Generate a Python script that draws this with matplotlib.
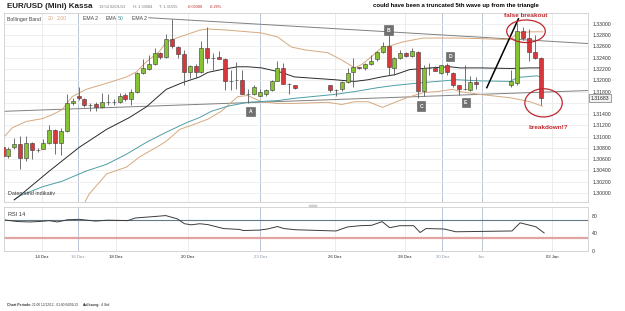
import matplotlib
matplotlib.use("Agg")
import matplotlib.pyplot as plt
from matplotlib.patches import Rectangle, Ellipse
from matplotlib.transforms import blended_transform_factory

# --- Data ---------------------------------------------------------------------
# Position of each 4h candle on the time axis (25 Dec and 01 Jan have no candles)
SLOTS = list(range(0, 51)) + list(range(56, 82)) + list(range(87, 93))

OPEN = [1.3081, 1.3066, 1.3081, 1.3087, 1.3063, 1.3088, 1.3077, 1.3079, 1.3089, 1.3111,
        1.3089, 1.3110, 1.3160, 1.3173, 1.3166, 1.3157, 1.3158, 1.3153, 1.3162, 1.3162,
        1.3162, 1.3174, 1.3167, 1.3179, 1.3213, 1.3220, 1.3229, 1.3248, 1.3241, 1.3274,
        1.3259, 1.3246, 1.3215, 1.3226, 1.3215, 1.3258, 1.3239, 1.3241, 1.3238, 1.3198,
        1.3200, 1.3201, 1.3175, 1.3176, 1.3173, 1.3175, 1.3182, 1.3199, 1.3221, 1.3194,
        1.3192, 1.3191, 1.3182, 1.3185, 1.3197, 1.3215, 1.3223, 1.3221, 1.3229, 1.3237,
        1.3250, 1.3260, 1.3222, 1.3239, 1.3248, 1.3244, 1.3251, 1.3181, 1.3222, 1.3222,
        1.3213, 1.3227, 1.3213, 1.3191, 1.3184, 1.3183, 1.3197, 1.3191, 1.3195, 1.3288,
        1.3275, 1.3250, 1.3239]
HIGH = [1.3082, 1.3082, 1.3098, 1.3101, 1.3101, 1.3091, 1.3080, 1.3096, 1.3120, 1.3113,
        1.3116, 1.3175, 1.3169, 1.3189, 1.3169, 1.3160, 1.3162, 1.3178, 1.3175, 1.3166,
        1.3177, 1.3177, 1.3184, 1.3215, 1.3238, 1.3245, 1.3258, 1.3251, 1.3282, 1.3309,
        1.3260, 1.3254, 1.3228, 1.3229, 1.3269, 1.3295, 1.3248, 1.3252, 1.3239, 1.3219,
        1.3232, 1.3219, 1.3184, 1.3191, 1.3184, 1.3184, 1.3201, 1.3235, 1.3231, 1.3195,
        1.3192, 1.3191, 1.3184, 1.3198, 1.3222, 1.3239, 1.3224, 1.3231, 1.3245, 1.3252,
        1.3268, 1.3281, 1.3241, 1.3254, 1.3250, 1.3257, 1.3252, 1.3228, 1.3231, 1.3225,
        1.3228, 1.3231, 1.3215, 1.3192, 1.3228, 1.3207, 1.3205, 1.3219, 1.3301, 1.3294,
        1.3291, 1.3281, 1.3242]
LOW = [1.3063, 1.3062, 1.3078, 1.3042, 1.3057, 1.3060, 1.3073, 1.3078, 1.3087, 1.3069,
       1.3068, 1.3109, 1.3157, 1.3165, 1.3152, 1.3145, 1.3145, 1.3151, 1.3157, 1.3157,
       1.3160, 1.3164, 1.3157, 1.3178, 1.3211, 1.3219, 1.3228, 1.3238, 1.3239, 1.3257,
       1.3239, 1.3192, 1.3204, 1.3204, 1.3213, 1.3231, 1.3219, 1.3237, 1.3182, 1.3182,
       1.3184, 1.3175, 1.3160, 1.3174, 1.3172, 1.3172, 1.3181, 1.3198, 1.3194, 1.3175,
       1.3185, 1.3179, 1.3172, 1.3181, 1.3195, 1.3188, 1.3220, 1.3219, 1.3228, 1.3235,
       1.3248, 1.3210, 1.3210, 1.3237, 1.3242, 1.3242, 1.3169, 1.3172, 1.3210, 1.3216,
       1.3211, 1.3210, 1.3189, 1.3174, 1.3182, 1.3181, 1.3185, 1.3189, 1.3192, 1.3272,
       1.3234, 1.3238, 1.3157]
CLOSE = [1.3066, 1.3079, 1.3087, 1.3063, 1.3088, 1.3076, 1.3077, 1.3088, 1.3111, 1.3088,
         1.3110, 1.3159, 1.3164, 1.3168, 1.3156, 1.3157, 1.3153, 1.3162, 1.3162, 1.3162,
         1.3173, 1.3167, 1.3179, 1.3213, 1.3221, 1.3229, 1.3248, 1.3241, 1.3274, 1.3260,
         1.3246, 1.3215, 1.3226, 1.3215, 1.3258, 1.3239, 1.3239, 1.3237, 1.3199, 1.3198,
         1.3200, 1.3175, 1.3175, 1.3188, 1.3179, 1.3182, 1.3199, 1.3221, 1.3194, 1.3194,
         1.3186, 1.3182, 1.3182, 1.3197, 1.3213, 1.3223, 1.3221, 1.3229, 1.3235, 1.3250,
         1.3260, 1.3223, 1.3239, 1.3248, 1.3244, 1.3252, 1.3181, 1.3222, 1.3222, 1.3217,
         1.3227, 1.3215, 1.3192, 1.3185, 1.3184, 1.3197, 1.3194, 1.3198, 1.3288, 1.3275,
         1.3251, 1.3239, 1.3168]

# Indicator lines (x = slot, y = price)
BB_UP_X = [-0.6, 1.7, 4.1, 6.8, 8.5, 10.2, 11.9, 14.3, 16.6, 18.8, 21.2, 22.9, 24.6, 26.8,
           28.0, 30.3, 33.7, 35.1, 38.5, 44.3, 47.0, 49.4, 51.7, 55.6, 58.0, 60.2, 61.4,
           63.1, 64.8, 66.2, 68.4, 71.9, 77.7, 81.6, 86.8, 88.1, 90.2, 92.4]
BB_UP = [1.3090, 1.3116, 1.3127, 1.3132, 1.3139, 1.3148, 1.3171, 1.3184, 1.3191, 1.3198,
         1.3206, 1.3215, 1.3233, 1.3251, 1.3268, 1.3277, 1.3289, 1.3291, 1.3289, 1.3284,
         1.3277, 1.3259, 1.3254, 1.3249, 1.3236, 1.3222, 1.3228, 1.3242, 1.3258, 1.3261,
         1.3268, 1.3275, 1.3275, 1.3274, 1.3272, 1.3284, 1.3286, 1.3286]
BB_LOW_X = [13.5, 14.8, 17.8, 21.2, 23.4, 26.3, 28.0, 30.3, 32.8, 35.1, 37.4, 40.2, 41.9,
            44.3, 47.0, 49.9, 55.6, 58.0, 60.2, 62.5, 65.0, 67.1, 69.1, 71.9, 74.3, 77.0,
            78.2, 81.6, 86.8, 90.2, 92.3]
BB_LOW = [1.2972, 1.2998, 1.3034, 1.3046, 1.3064, 1.3081, 1.3092, 1.3113, 1.3122, 1.3131,
          1.3145, 1.3171, 1.3173, 1.3162, 1.3159, 1.3159, 1.3161, 1.3157, 1.3162, 1.3162,
          1.3152, 1.3161, 1.3169, 1.3178, 1.3180, 1.3184, 1.3180, 1.3175, 1.3169, 1.3162,
          1.3154]
EMA_FAST_X = [2.0, 2.9, 8.0, 13.1, 17.8, 21.7, 24.6, 28.0, 30.8, 33.7, 35.1, 37.4, 40.2,
              41.9, 44.3, 47.7, 49.9, 56.8, 60.2, 62.5, 64.8, 67.1, 69.6, 73.1, 76.5, 78.2,
              81.6, 86.8, 90.2, 91.9]
EMA_FAST = [1.2988, 1.2995, 1.3039, 1.3081, 1.3113, 1.3134, 1.3153, 1.3184, 1.3196, 1.3206,
            1.3214, 1.3219, 1.3224, 1.3224, 1.3222, 1.3214, 1.3206, 1.3201, 1.3198, 1.3201,
            1.3206, 1.3210, 1.3219, 1.3222, 1.3224, 1.3222, 1.3222, 1.3221, 1.3222, 1.3222]
EMA_SLOW_X = [2.0, 2.9, 6.8, 10.2, 14.3, 17.8, 21.2, 24.6, 28.0, 31.5, 33.7, 35.7, 38.5,
              41.9, 47.0, 49.9, 56.8, 60.2, 64.2, 67.1, 71.9, 77.7, 81.6, 86.8, 88.0, 91.4,
              91.9]
EMA_SLOW = [1.2988, 1.2995, 1.3011, 1.3021, 1.3039, 1.3051, 1.3069, 1.3090, 1.3108, 1.3125,
            1.3134, 1.3145, 1.3154, 1.3161, 1.3164, 1.3168, 1.3175, 1.3180, 1.3187, 1.3191,
            1.3196, 1.3201, 1.3199, 1.3198, 1.3205, 1.3208, 1.3206]

TREND_UP_X = [25.0, 100.5]
TREND_UP = [1.3311, 1.3265]
TREND_LOW_X = [0.3, 100.5]
TREND_LOW = [1.3145, 1.3182]
WAVE_X = [82.8, 88.2]
WAVE = [1.3187, 1.3309]

RSI_X = [0.1, 2.5, 4.6, 6.3, 8.0, 9.4, 11.1, 13.1, 15.9, 17.9, 20.0, 21.4, 22.7, 26.2,
         27.9, 29.9, 31.1, 32.3, 33.7, 35.1, 37.8, 40.5, 41.2, 43.9, 45.3, 47.0, 48.1,
         50.1, 57.0, 59.0, 61.1, 63.1, 64.9, 66.2, 67.9, 70.3, 71.4, 72.4, 75.5, 77.5,
         87.1, 88.5, 91.2, 92.6]
RSI = [71, 67, 66, 67, 69, 66, 71, 72, 68, 70, 69.5, 69, 75, 78.6, 80.5, 73, 62, 59.5,
       62, 60, 51, 49, 46.5, 47.5, 50, 55.6, 51, 48.3, 45.5, 54.7, 57.5, 58.4, 66.7, 53,
       57.5, 57.5, 42, 51, 50, 43.7, 45.5, 64, 55, 41]

PRICE_TICKS = [1.300, 1.302, 1.304, 1.306, 1.308, 1.310, 1.312, 1.314, 1.316, 1.318,
               1.320, 1.322, 1.324, 1.326, 1.328, 1.330]
RSI_TICKS = [0, 40, 80]
DATE_POS = [6.75, 12.85, 19.4, 31.7, 44.1, 56.8, 68.8, 75.2, 81.9, 94.0]
DATE_LABELS = ["14 Dez", "16 Dez", "18 Dez", "20 Dez", "23 Dez", "26 Dez", "28 Dez",
               "30 Dez", "Jan", "03 Jan"]
WEEK_START = ["16 Dez", "23 Dez", "30 Dez", "Jan"]

MARKS = ["A", "B", "C", "D", "E"]
MARK_X = [42.4, 66.0, 71.6, 76.5, 79.2]
MARK_Y = [1.3145, 1.3289, 1.3154, 1.3242, 1.3161]
LAST_PRICE = 1.31683

# --- Style --------------------------------------------------------------------
W, H = 625, 311
GREEN = "#86c232"
RED = "#d8383c"
EDGE = "#3c3c3c"
TAN = "#d6a97e"
TEAL = "#4f9ea6"
GRID = "#ececec"
WEEK = "#b9c6d6"
ANNOT = "#c0272d"
FONT = "Liberation Sans"

plt.rcParams["font.family"] = FONT


def fig_box(left, top, right, bottom):
    return [left / W, 1 - bottom / H, (right - left) / W, (bottom - top) / H]


def fig_pt(x, y):
    return x / W, 1 - y / H


fig = plt.figure(figsize=(W / 100, H / 100), dpi=100)
fig.patch.set_facecolor("white")

ax = fig.add_axes(fig_box(4, 13, 588, 202))
ax_rsi = fig.add_axes(fig_box(4, 207, 588, 251), sharex=ax)

for a in (ax, ax_rsi):
    for spine in a.spines.values():
        spine.set_color("#cfcfcf")
        spine.set_linewidth(0.6)
    for pos, lab in zip(DATE_POS, DATE_LABELS):
        a.axvline(pos, color=WEEK if lab in WEEK_START else GRID, lw=0.7, zorder=0)

ax.set_xlim(0.25, 100.1)
ax.set_ylim(1.29841, 1.33194)
for p in PRICE_TICKS:
    ax.axhline(p, color=GRID, lw=0.6, zorder=0)

# --- Candles ------------------------------------------------------------------
for s, o, h, l, c in zip(SLOTS, OPEN, HIGH, LOW, CLOSE):
    ax.vlines(s, l, h, color="#5a5a5a", lw=0.6, zorder=3)
    ax.add_patch(Rectangle((s - 0.34, min(o, c)), 0.68, abs(c - o),
                           fc=GREEN if c >= o else RED, ec=EDGE, lw=0.4, zorder=4))

ax.plot(TREND_UP_X, TREND_UP, color="#808080", lw=0.7, zorder=2)
ax.plot(TREND_LOW_X, TREND_LOW, color="#808080", lw=0.7, zorder=2)
ax.plot(BB_UP_X, BB_UP, color=TAN, lw=0.7, zorder=2)
ax.plot(BB_LOW_X, BB_LOW, color=TAN, lw=0.7, zorder=2)
ax.plot(EMA_SLOW_X, EMA_SLOW, color=TEAL, lw=0.7, zorder=2)
ax.plot(EMA_FAST_X, EMA_FAST, color="#2a2a2a", lw=0.7, zorder=2)
ax.plot(WAVE_X, WAVE, color="black", lw=1.1, zorder=5)

# annotation circles
ax.add_patch(Ellipse((89.5, 1.3287), 6.6, 0.0040, fill=False, ec=ANNOT, lw=0.9, zorder=6))
ax.add_patch(Ellipse((92.5, 1.3160), 6.4, 0.0050, fill=False, ec=ANNOT, lw=0.9, zorder=6))
ax.text(89.5, 1.3315, "false breakout", color=ANNOT, fontsize=4.6, fontweight="bold",
        ha="center", va="center", zorder=7)
ax.text(93.3, 1.3117, "breakdown!?", color=ANNOT, fontsize=4.6, fontweight="bold",
        ha="center", va="center", zorder=7)

for m, mx, my in zip(MARKS, MARK_X, MARK_Y):
    ax.text(mx, my, m, color="white", fontsize=3.6, fontweight="bold", ha="center",
            va="center", zorder=7,
            bbox=dict(boxstyle="square,pad=0.45", fc="#707070", ec="#5a5a5a", lw=0.4))

ax.yaxis.tick_right()
ax.set_yticks(PRICE_TICKS)
ax.set_yticklabels(["" if abs(p - 1.316) < 1e-9 else f"{p:.5f}" for p in PRICE_TICKS])
ax.tick_params(axis="y", length=0, pad=3, labelsize=3.7, labelcolor="#333333")
ax.tick_params(axis="x", length=0, labelbottom=False)

trans = blended_transform_factory(ax.transAxes, ax.transData)
ax.text(1.004, LAST_PRICE, f"{LAST_PRICE:.5f}", transform=trans, fontsize=3.7,
        color="#222222", va="center", ha="left", zorder=8, clip_on=False,
        bbox=dict(boxstyle="square,pad=0.35", fc="#f2f2f2", ec="#777777", lw=0.5))

ax.text(0.006, 0.03, "Daten sind indikativ", transform=ax.transAxes, fontsize=3.9,
        color="#333333", va="bottom", ha="left")

# legend row
legend_items = [(7, "Bollinger Band", "#444444"), (48, "20", TAN), (57, "2.00", TAN),
                (83, "EMA 2", "#444444"), (106, "EMA", "#444444"), (118, "50", TEAL),
                (132, "EMA 2", "#444444")]
for lx, txt, col in legend_items:
    fig.text(*fig_pt(lx, 19), txt, color=col, fontsize=3.7, va="center", ha="left")

# --- RSI ----------------------------------------------------------------------
ax_rsi.set_ylim(0, 100)
ax_rsi.axhline(70, color="#62798a", lw=0.8, zorder=1)
ax_rsi.axhline(30, color="#e2a3a3", lw=1.6, zorder=1)
ax_rsi.plot(RSI_X, RSI, color="#3c3c3c", lw=0.7, zorder=2)
ax_rsi.yaxis.tick_right()
ax_rsi.set_yticks(RSI_TICKS)
ax_rsi.tick_params(axis="y", length=0, pad=3, labelsize=3.7, labelcolor="#333333")
ax_rsi.set_xticks(DATE_POS)
ax_rsi.set_xticklabels(DATE_LABELS)
ax_rsi.tick_params(axis="x", length=0, pad=3, labelsize=3.1)
for lab in ax_rsi.get_xticklabels():
    lab.set_color("#8894a8" if lab.get_text() in WEEK_START else "#222222")
ax_rsi.text(0.006, 0.84, "RSI 14", transform=ax_rsi.transAxes, fontsize=4.1,
            color="#333333", va="center", ha="left")

# panel splitter handle
fig.patches.append(Rectangle(fig_pt(309, 207), 8 / W, 2 / H, transform=fig.transFigure,
                             fc="#d8d8d8", ec="#bbbbbb", lw=0.3))

# --- Header / footer ----------------------------------------------------------
fig.text(*fig_pt(7, 7), "EUR/USD (Mini) Kassa", fontsize=5.8, fontweight="bold",
         color="#222222", va="center", ha="left")
header_items = [(99, "19:54 02/01/13", "#777777"), (133, "H: 1.33004", "#777777"),
                (159, "T: 1.31555", "#777777"), (188, "-0.00386", ANNOT),
                (210, "-0.29%", ANNOT)]
for hx, txt, col in header_items:
    fig.text(*fig_pt(hx, 7), txt, fontsize=2.8, color=col, va="center", ha="left")
fig.text(*fig_pt(456, 5), "could have been a truncated 5th wave up from the triangle",
         fontsize=4.35, fontweight="bold", color="black", va="center", ha="center")

footer_items = [(7, "Chart Periode:", "bold", 2.5), (32, "21:00 12/12/12 - 01:00 04/01/13", "normal", 2.35),
                (83, "Auflösung:", "bold", 2.35), (101, "4 Std", "normal", 2.5)]
for fx, txt, weight, size in footer_items:
    fig.text(*fig_pt(fx, 305), txt, fontsize=size, fontweight=weight, color="#333333",
             va="center", ha="left")

fig.savefig("out.png", dpi=100)
